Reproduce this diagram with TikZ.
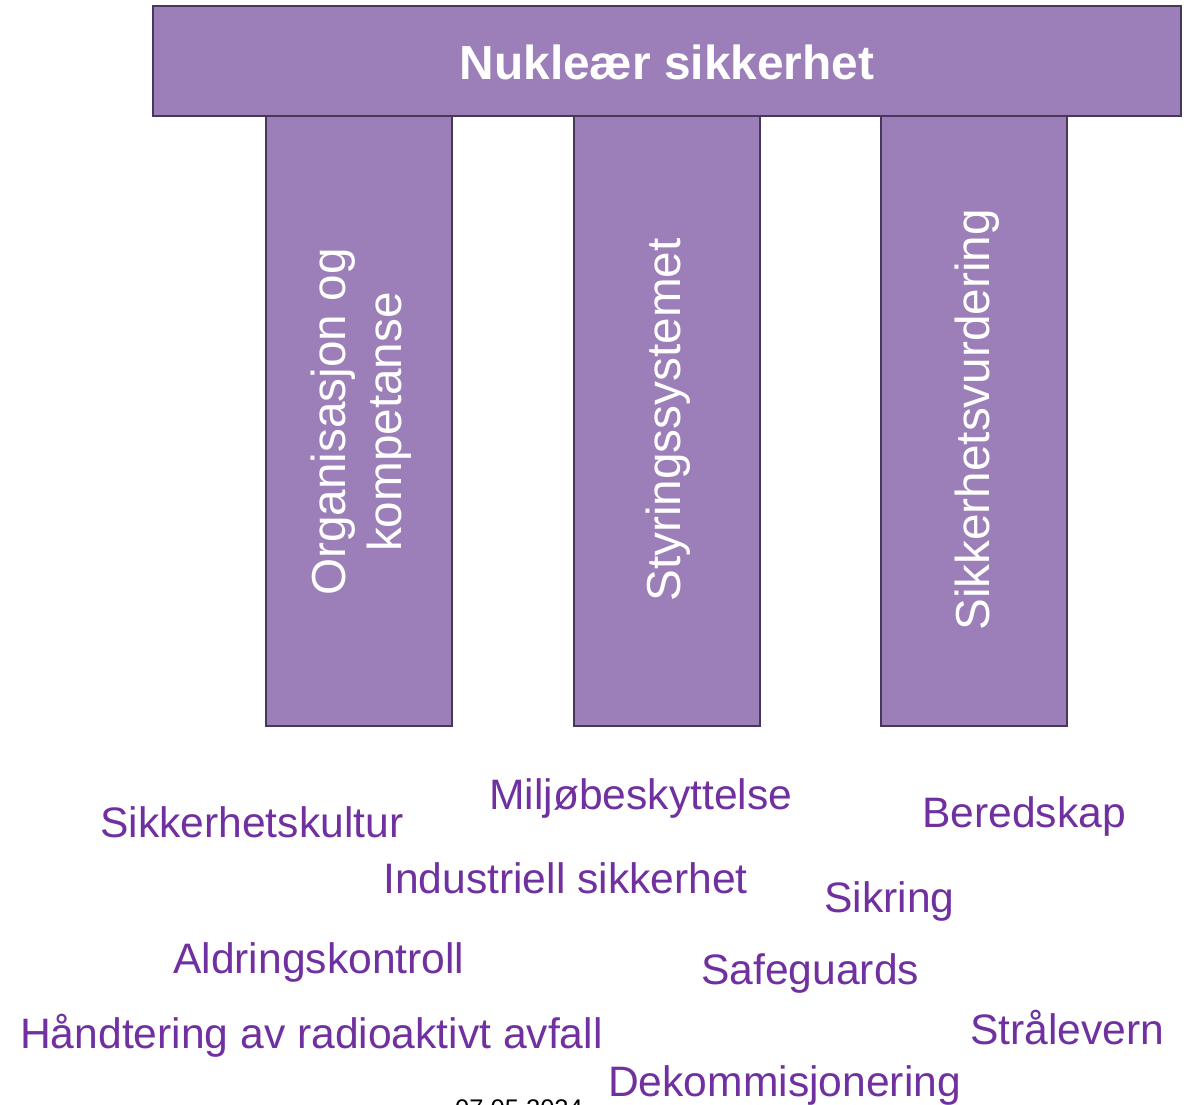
\documentclass[tikz,border=0pt]{standalone}
\usepackage{fontspec}
\setmainfont{Liberation Sans}
\definecolor{pfill}{HTML}{9C7FB8}
\definecolor{pborder}{HTML}{47375A}
\definecolor{lblpurple}{HTML}{7030A0}
\begin{document}
\begin{tikzpicture}[x=1pt,y=-1pt,
  box/.style={draw=pborder,fill=pfill,line width=2.8pt},
  vtext/.style={rotate=90,text=white,font=\fontsize{47.7}{56}\selectfont,align=center},
  lbl/.style={anchor=base west,inner sep=0pt,text=lblpurple,font=\fontsize{42.6}{50}\selectfont}]
\useasboundingbox (0,0) rectangle (1194,1104);
\clip (0,0) rectangle (1194,1104);
\draw[box] (153,6) rectangle (1181,116);
\node[text=white,font=\fontsize{47.8}{56}\selectfont\bfseries] (title) at (667,62) {Nukleær sikkerhet};
\draw[box] (266,116) rectangle (452,726);
\draw[box] (574,116) rectangle (760,726);
\draw[box] (881,116) rectangle (1067,726);
\node[vtext] (p1) at (361,422) {Organisasjon og\\kompetanse};
\node[vtext] (p2) at (668,420) {Styringssystemet};
\node[vtext] (p3) at (977,420) {Sikkerhetsvurdering};
\node[lbl] (l1) at (489,809) {Miljøbeskyttelse};
\node[lbl] (l2) at (100,837) {Sikkerhetskultur};
\node[lbl] (l3) at (922,827) {Beredskap};
\node[lbl] (l4) at (383,893) {Industriell sikkerhet};
\node[lbl] (l5) at (824,912) {Sikring};
\node[lbl] (l6) at (173,973) {Aldringskontroll};
\node[lbl] (l7) at (701,984) {Safeguards};
\node[lbl] (l8) at (20,1048) {Håndtering av radioaktivt avfall};
\node[lbl] (l9) at (970,1044) {Strålevern};
\node[lbl] (l10) at (608,1096) {Dekommisjonering};
\node[anchor=base west,inner sep=0pt,font=\fontsize{25.5}{30}\selectfont] (date) at (455,1117) {07.05.2024};
\end{tikzpicture}
\end{document}
